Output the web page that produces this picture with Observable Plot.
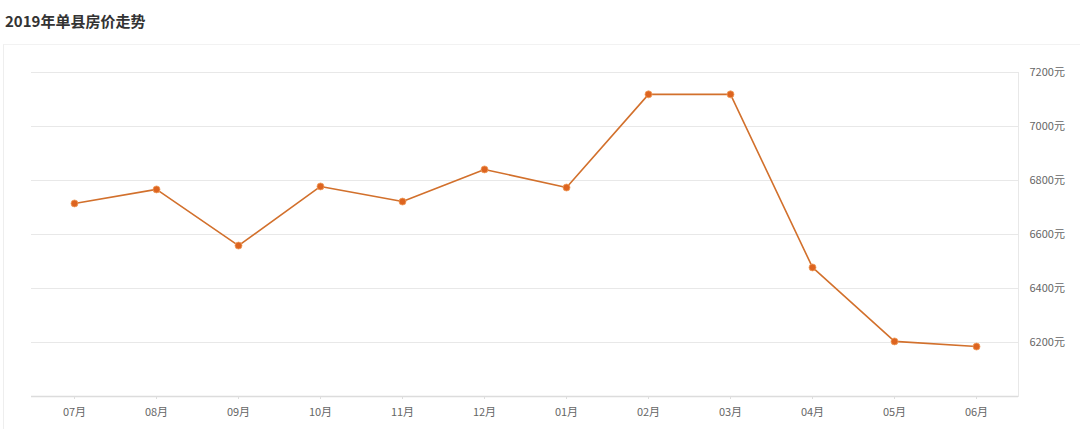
<!DOCTYPE html>
<html><head><meta charset="utf-8">
<script src="https://cdn.jsdelivr.net/npm/d3@7"></script>
<script src="https://cdn.jsdelivr.net/npm/@observablehq/plot@0.6"></script>
<style>
body{margin:0;background:#fff;font-family:"Noto Sans CJK SC","Noto Sans",sans-serif;width:1080px;height:429px;overflow:hidden;position:relative;}
#title{position:absolute;left:5px;top:11px;font-size:15px;font-weight:bold;color:#333;line-height:20px;}
#panel{position:absolute;left:3px;top:44px;width:1077px;height:385px;border-left:1px solid #eee;border-top:1px solid #f2f2f2;box-sizing:border-box;}
#chart{position:absolute;left:0;top:44px;}
</style></head>
<body>
<div id="title">2019年单县房价走势</div>
<div id="panel"></div>
<div id="chart"></div>
<script>
const months = ["07月","08月","09月","10月","11月","12月","01月","02月","03月","04月","05月","06月"];
const prices = [6715,6767,6559,6778,6722,6841,6774,7119,7119,6478,6204,6185];
const yTicks = [6200,6400,6600,6800,7000,7200];
const data = months.map((m,i)=>({month:m, price:prices[i]}));

const chart = Plot.plot({
  width:1080, height:385,
  marginLeft:31, marginRight:62, marginTop:28, marginBottom:33,
  style:{fontFamily:'"Noto Sans CJK SC","Noto Sans",sans-serif', fontSize:"11px", color:"#666", background:"transparent", overflow:"visible"},
  x:{type:"point", domain:months, padding:0.5, label:null},
  y:{domain:[6000,7200], label:null},
  marks:[
    Plot.ruleY(yTicks, {stroke:"#e8e8e8", strokeWidth:1}),
    Plot.frame({anchor:"right", stroke:"#e8e8e8"}),
    Plot.ruleY([6000], {stroke:"#dcdcdc", strokeWidth:1.5}),
    Plot.axisX({tickSize:3, tickPadding:9, stroke:"#ddd", fill:"#666", label:null}),
    Plot.axisY({anchor:"right", ticks:yTicks, tickSize:0, tickPadding:11, tickFormat:d=>d+"元", fill:"#666", label:null}),
    Plot.line(data, {x:"month", y:"price", stroke:"#d2702c", strokeWidth:1.6}),
    Plot.dot(data, {x:"month", y:"price", r:3.5, fill:"#dd6420", stroke:"#f0a060", strokeWidth:0.8})
  ]
});
document.getElementById("chart").appendChild(chart);
</script>
</body></html>
